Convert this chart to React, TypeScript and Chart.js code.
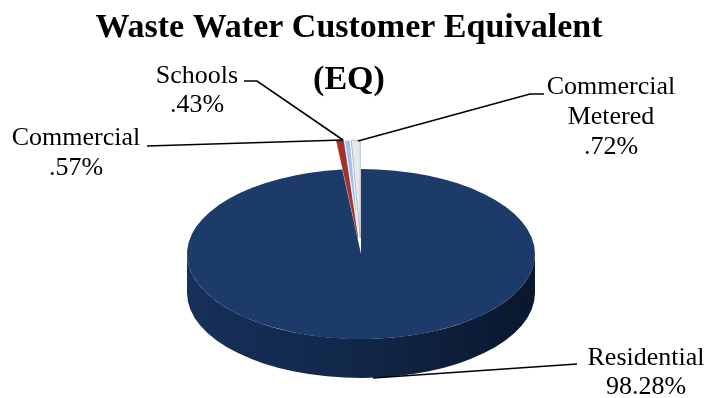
import React, { useEffect, useRef } from 'react';
import { Chart, registerables } from 'chart.js';

Chart.register(...registerables);

// ---- data ----
const categories = ['Residential', 'Commercial', 'Schools', 'Commercial Metered'];
const shares = [98.28, 0.57, 0.43, 0.72];
const shareLabels = ['98.28%', '.57%', '.43%', '.72%'];
const titleLines = ['Waste Water Customer Equivalent', '(EQ)'];

// ---- styles ----
const sliceColors = ['#1D3B69', '#A3302B', '#9EC0EA', '#E6E9ED'];
const sliceBorders = ['#1D3B69', '#8A2420', '#FFFFFF', '#8E949B'];
const sliceBorderWidths = [0, 0.6, 0.8, 0.8];
const sliceExploded = [false, true, true, true];

const PIE_RADIUS = 174;
const TILT = 85 / 174;
const DEPTH = 39;
const LIFT = 33; // radial shift of exploded slices (unflattened px)
const GROW = 26; // extra radius of exploded slices (fake perspective)

// label layout (screen positions of the annotation text + leader lines)
const labelLayout = [
  { cx: 646, baselines: [365, 394], leader: [[373, 378], [577, 364]] },
  { cx: 76, baselines: [145, 175], leader: [[343, 140], [147, 146]] },
  { cx: 197, baselines: [83, 112], leader: [[343, 140], [257, 81], [244, 81]] },
  { cx: 611, baselines: [94, 124, 154], leader: [[358, 141], [530, 94], [544, 94]] },
];

const pie3d = {
  id: 'pie3d',
  beforeDatasetsDraw(chart: any) {
    const ctx = chart.ctx;
    const meta = chart.getDatasetMeta(0);
    const arc = meta.data[0];
    if (!arc) return;
    const cx = arc.x;
    const cy = arc.y;
    const rx = arc.outerRadius;
    const ry = arc.outerRadius * TILT;
    ctx.save();
    // side wall of the front half
    const g = ctx.createLinearGradient(cx - rx, 0, cx + rx, 0);
    g.addColorStop(0, '#16305A');
    g.addColorStop(0.45, '#12284A');
    g.addColorStop(1, '#0A172D');
    ctx.beginPath();
    ctx.moveTo(cx + rx, cy);
    ctx.ellipse(cx, cy + DEPTH, rx, ry, 0, 0, Math.PI, false);
    ctx.lineTo(cx - rx, cy);
    ctx.ellipse(cx, cy, rx, ry, 0, Math.PI, 0, true);
    ctx.closePath();
    ctx.fillStyle = g;
    ctx.fill();
    // flatten the top face
    ctx.translate(0, cy);
    ctx.scale(1, TILT);
    ctx.translate(0, -cy);
    // exploded slices are drawn afterwards, on top
    meta.data.forEach((el: any, i: number) => {
      if (sliceExploded[i]) el.hidden = true;
    });
  },
  afterDatasetsDraw(chart: any) {
    const ctx = chart.ctx;
    const meta = chart.getDatasetMeta(0);
    meta.data.forEach((el: any, i: number) => {
      if (!sliceExploded[i]) return;
      el.hidden = false;
      const mid = (el.startAngle + el.endAngle) / 2;
      const r0 = el.outerRadius;
      ctx.save();
      ctx.translate(Math.cos(mid) * LIFT, Math.sin(mid) * LIFT);
      el.outerRadius = r0 + GROW;
      el.draw(ctx, chart.chartArea);
      el.outerRadius = r0;
      ctx.restore();
    });
    ctx.restore();
  },
  afterDraw(chart: any) {
    const ctx = chart.ctx;
    ctx.save();
    ctx.fillStyle = '#000';
    ctx.textAlign = 'center';
    ctx.textBaseline = 'alphabetic';
    ctx.font = 'bold 34px "Liberation Serif", "Times New Roman", serif';
    ctx.fillText(titleLines[0], 349, 37);
    ctx.fillText(titleLines[1], 349, 89);

    ctx.font = '26px "Liberation Serif", "Times New Roman", serif';
    ctx.strokeStyle = '#000';
    ctx.lineWidth = 1.6;
    categories.forEach((name, i) => {
      const lay = labelLayout[i];
      const lines = [...name.split(' '), shareLabels[i]];
      lines.forEach((t, j) => ctx.fillText(t, lay.cx, lay.baselines[j]));
      ctx.beginPath();
      lay.leader.forEach((p, j) => (j === 0 ? ctx.moveTo(p[0], p[1]) : ctx.lineTo(p[0], p[1])));
      ctx.stroke();
    });
    ctx.restore();
  },
};

export default function App() {
  const ref = useRef<HTMLCanvasElement>(null);
  useEffect(() => {
    if (!ref.current) return;
    const chart = new Chart(ref.current, {
      type: 'pie',
      data: {
        labels: categories,
        datasets: [
          {
            data: shares,
            backgroundColor: sliceColors,
            borderColor: sliceBorders,
            borderWidth: sliceBorderWidths,
            clip: false,
          } as any,
        ],
      },
      options: {
        responsive: false,
        maintainAspectRatio: false,
        devicePixelRatio: 1,
        animation: false,
        events: [],
        radius: PIE_RADIUS,
        layout: { padding: { left: 10, right: 4, top: 112, bottom: 2 } },
        plugins: {
          legend: { display: false },
          tooltip: { enabled: false },
          title: { display: false },
        },
      } as any,
      plugins: [pie3d],
    });
    return () => chart.destroy();
  }, []);
  return (
    <div style={{ position: 'fixed', left: 0, top: 0, width: 716, height: 398, background: '#fff' }}>
      <canvas ref={ref} width={716} height={398} style={{ display: 'block' }} />
    </div>
  );
}
